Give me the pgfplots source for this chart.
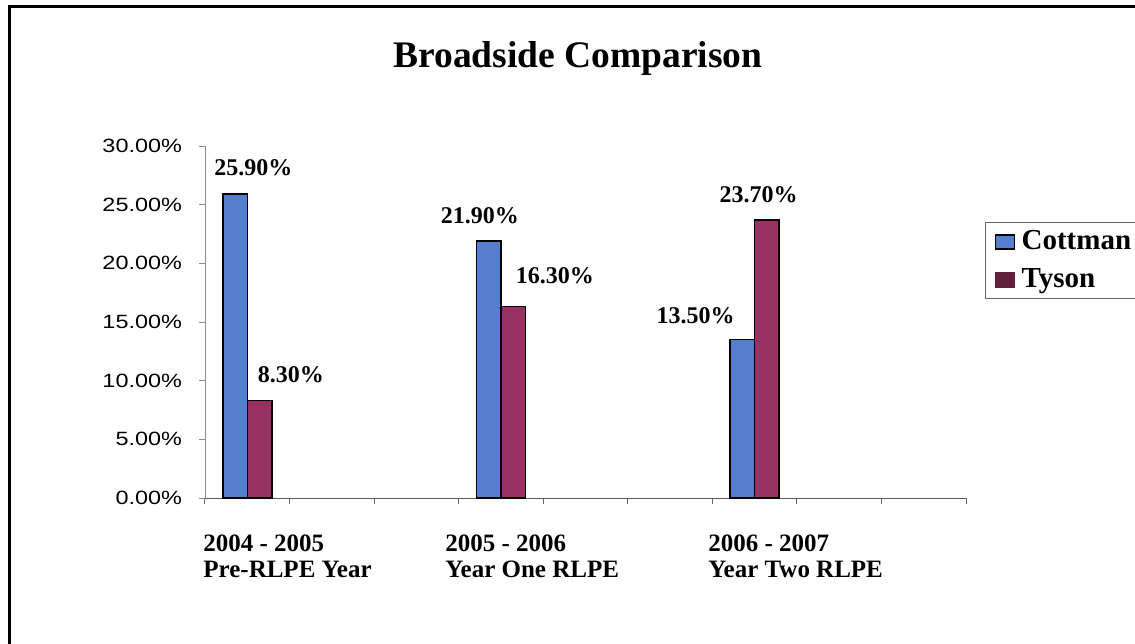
\documentclass[border=0pt]{standalone}
\usepackage{pgfplots}
\usepackage{pgfplotstable}
\pgfplotsset{compat=1.18}
\usepackage{fontspec}
\setmainfont{Liberation Serif}
\newfontfamily\ticksfont[FakeStretch=1.22]{Liberation Sans}

\definecolor{cottman}{RGB}{86,126,206}
\definecolor{tyson}{RGB}{153,48,98}
\definecolor{tysonkey}{RGB}{96,34,56}

% share of students per school year (in %)
\pgfplotstableread{
x cottman tyson
0 25.90   8.30
3 21.90  16.30
6 13.50  23.70
}\broadside

% value label above a bar: x, value, horizontal and vertical offset
\newcommand\barlabel[4]{%
  \node[anchor=base, font=\bfseries\fontsize{12}{14}\selectfont,
        xshift=#3, yshift=#4, inner sep=0pt] at (axis cs:#1,#2) {#2\%};}

\begin{document}
\begin{tikzpicture}[x=1pt,y=1pt]
\useasboundingbox (0,0) rectangle (567.5,321.5);
% outer frame
\draw[line width=1.5pt] (4.5,-5) -- (4.5,318) -- (580,318);

\node[anchor=base, font=\bfseries\fontsize{18.75}{22}\selectfont]
  at (289,287.5) {Broadside Comparison};

\begin{axis}[
  at={(102.5pt,72.5pt)}, anchor=south west,
  scale only axis, width=380.5pt, height=176pt,
  ybar=0pt, bar width=12.25pt,
  xmin=-0.5, xmax=8.5, ymin=0, ymax=30,
  axis x line*=bottom, axis y line*=left,
  x axis line style={draw=black!65, -},
  y axis line style={draw=black!45, -},
  xtick={-0.5,0.5,1.5,2.5,3.5,4.5,5.5,6.5,7.5,8.5}, xticklabels={},
  ytick={0,5,10,15,20,25,30},
  yticklabels={0.00\%,5.00\%,10.00\%,15.00\%,20.00\%,25.00\%,30.00\%},
  tick align=outside, major tick length=3pt,
  xtick style={draw=black!60, line width=0.5pt},
  ytick style={draw=black!45, line width=0.5pt},
  yticklabel style={font=\ticksfont\fontsize{9.6}{11}\selectfont, text=black,
    xshift=-5pt},
  legend style={at={(1.025,0.784)}, anchor=north west, draw=black!60,
    line width=0.6pt, font=\bfseries\fontsize{14.5}{17}\selectfont,
    inner xsep=3pt, inner ysep=2pt, row sep=4pt},
  legend cell align=left,
]
\addplot[fill=cottman, draw=black, line width=0.75pt, bar shift=-6.125pt,
  legend image code/.code={\path[draw=none,fill=none] (-2pt,-1pt) rectangle (11pt,1pt);
    \draw[fill=cottman,draw=black,line width=0.8pt]
    (0pt,-3.5pt) rectangle (9.5pt,3.5pt);}]
  table[x=x,y=cottman]{\broadside};
\addlegendentry{Cottman}
\addplot[fill=tyson, draw=black, line width=0.75pt, bar shift=6.125pt,
  legend image code/.code={\path[draw=none,fill=none] (-2pt,-1pt) rectangle (11pt,1pt);
    \fill[tysonkey] (0pt,-3.5pt) rectangle (9.5pt,3.5pt);}]
  table[x=x,y=tyson]{\broadside};
\addlegendentry{Tyson}

\barlabel{0}{25.90}{3.1pt}{9.55pt}
\barlabel{0}{8.30}{21.85pt}{9.3pt}
\barlabel{3}{21.90}{-10.5pt}{9pt}
\barlabel{3}{16.30}{27pt}{11.4pt}
\barlabel{6}{13.50}{-29.5pt}{8.3pt}
\barlabel{6}{23.70}{2pt}{8.95pt}
\end{axis}

% category names under the groups
\begin{scope}[every node/.style={anchor=base west, inner sep=0pt,
    font=\bfseries\fontsize{12.5}{15}\selectfont}]
\node at (101.5,46) {2004 - 2005};
\node at (101.5,33) {Pre-RLPE Year};
\node at (222.5,46) {2005 - 2006};
\node at (222.5,33) {Year One RLPE};
\node at (354,46) {2006 - 2007};
\node at (354,33) {Year Two RLPE};
\end{scope}
\end{tikzpicture}
\end{document}
